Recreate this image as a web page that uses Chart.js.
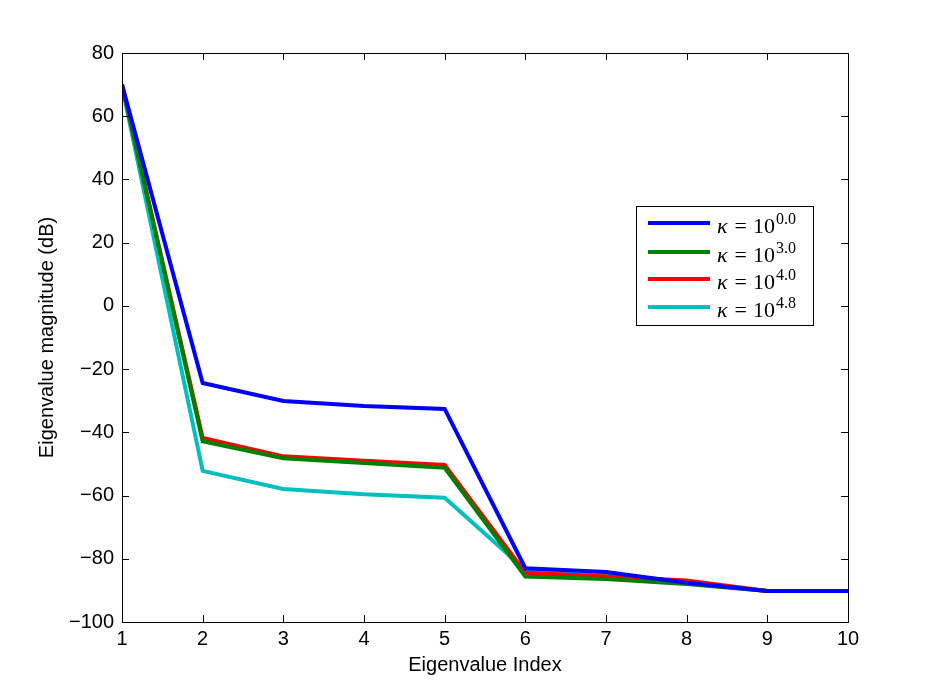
<!DOCTYPE html>
<html>
<head>
<meta charset="utf-8">
<script src="https://cdn.jsdelivr.net/npm/chart.js@4.4.1/dist/chart.umd.min.js"></script>
<style>
  html, body { margin: 0; padding: 0; background: #fff; }
  #wrap { width: 934px; height: 700px; }
</style>
</head>
<body>
<div id="wrap"><canvas id="eigChart" width="934" height="700"></canvas></div>
<script>
// eigenvalue index 1..10
const indices = [1, 2, 3, 4, 5, 6, 7, 8, 9, 10];
const exponents = ['0.0', '3.0', '4.0', '4.8'];
const colors = ['#0000ff', '#008000', '#ff0000', '#00bfbf'];

const kappa0 = [70, -24.4, -30.1, -31.7, -32.6, -83.0, -84.2, -87.6, -90.2, -90.2];
const kappa3 = [70, -42.8, -48.2, -49.7, -51.2, -85.6, -86.4, -88.0, -90.2, -90.2];
const kappa4 = [70, -41.8, -47.6, -49.0, -50.3, -84.4, -85.6, -86.9, -90.2, -90.2];
const kappa48 = [69.5, -52.2, -57.9, -59.6, -60.7, -83.5, -85.0, -87.4, -90.2, -90.2];

const series = [kappa0, kappa3, kappa4, kappa48];

const yTicks = [80, 60, 40, 20, 0, -20, -40, -60, -80, -100];

const sansFont = "'Liberation Sans', Arial, Helvetica, sans-serif";
const serifFont = "'Liberation Serif', 'DejaVu Serif', serif";

// box around the axes with inward ticks on all sides
const frame = {
    id: 'frame',
    afterDraw(chart) {
        const {ctx, chartArea: a, scales: {x, y}} = chart;
        ctx.save();
        ctx.strokeStyle = '#000';
        ctx.lineWidth = 1;
        ctx.strokeRect(a.left + 0.5, a.top + 0.5, a.right - a.left, a.bottom - a.top);
        ctx.beginPath();
        const len = 7;
        indices.forEach(v => {
            const px = Math.round(x.getPixelForValue(v)) + 0.5;
            ctx.moveTo(px, a.bottom); ctx.lineTo(px, a.bottom - len);
            ctx.moveTo(px, a.top); ctx.lineTo(px, a.top + len);
        });
        yTicks.forEach(v => {
            const py = Math.round(y.getPixelForValue(v)) + 0.5;
            ctx.moveTo(a.left, py); ctx.lineTo(a.left + len, py);
            ctx.moveTo(a.right, py); ctx.lineTo(a.right - len, py);
        });
        ctx.stroke();
        ctx.restore();
    }
};

// matlab-like legend with superscript exponents
const mathLegend = {
    id: 'mathLegend',
    afterDraw(chart) {
        const {ctx} = chart;
        const bx = 636, by = 206, bw = 177, bh = 119;
        ctx.save();
        ctx.fillStyle = '#fff';
        ctx.fillRect(bx, by, bw, bh);
        ctx.strokeStyle = '#000';
        ctx.lineWidth = 1;
        ctx.strokeRect(bx + 0.5, by + 0.5, bw, bh);
        const rows = [223, 252, 279, 307];
        chart.data.datasets.forEach((ds, i) => {
            const ry = rows[i];
            ctx.strokeStyle = ds.borderColor;
            ctx.lineWidth = 4;
            ctx.beginPath();
            ctx.moveTo(648, ry);
            ctx.lineTo(710, ry);
            ctx.stroke();
            ctx.fillStyle = '#000';
            ctx.textBaseline = 'alphabetic';
            ctx.font = 'italic 22px ' + serifFont;
            let tx = 717;
            ctx.fillText('κ', tx, ry + 10);
            tx += ctx.measureText('κ').width + 7;
            ctx.font = '22px ' + serifFont;
            ctx.fillText('=', tx, ry + 10);
            tx += ctx.measureText('=').width + 6;
            ctx.fillText('10', tx, ry + 10);
            tx += ctx.measureText('10').width + 1;
            ctx.font = '16px ' + serifFont;
            ctx.fillText(exponents[i], tx, ry + 1);
        });
        ctx.restore();
    }
};

new Chart(document.getElementById('eigChart'), {
    type: 'line',
    data: {
        datasets: series.map((vals, i) => ({
            label: 'κ = 10^' + exponents[i],
            data: vals.map((v, k) => ({x: indices[k], y: v})),
            borderColor: colors[i],
            backgroundColor: colors[i],
            borderWidth: 4,
            pointRadius: 0,
            tension: 0,
            fill: false
        }))
    },
    options: {
        responsive: false,
        animation: false,
        layout: { padding: { left: 0, right: 86, top: 53, bottom: 0 } },
        plugins: {
            legend: { display: false },
            tooltip: { enabled: false }
        },
        scales: {
            x: {
                type: 'linear',
                min: 1,
                max: 10,
                afterFit(scale) { scale.height = 78; },
                grid: { display: false, drawTicks: false },
                border: { display: false },
                ticks: {
                    stepSize: 1,
                    padding: 5,
                    color: '#000',
                    font: { family: sansFont, size: 20 }
                },
                title: {
                    display: true,
                    text: 'Eigenvalue Index',
                    color: '#000',
                    font: { family: sansFont, size: 20 },
                    padding: { top: 0, bottom: 23 }
                }
            },
            y: {
                min: -100,
                max: 80,
                afterFit(scale) { scale.width = 122; },
                grid: { display: false, drawTicks: false },
                border: { display: false },
                ticks: {
                    stepSize: 20,
                    padding: 8,
                    color: '#000',
                    font: { family: sansFont, size: 20 },
                    callback: v => String(v).replace('-', '\u2212')
                },
                title: {
                    display: true,
                    text: 'Eigenvalue magnitude (dB)',
                    color: '#000',
                    font: { family: sansFont, size: 20 },
                    padding: { top: 35, bottom: 0 }
                }
            }
        }
    },
    plugins: [frame, mathLegend]
});
</script>
</body>
</html>
